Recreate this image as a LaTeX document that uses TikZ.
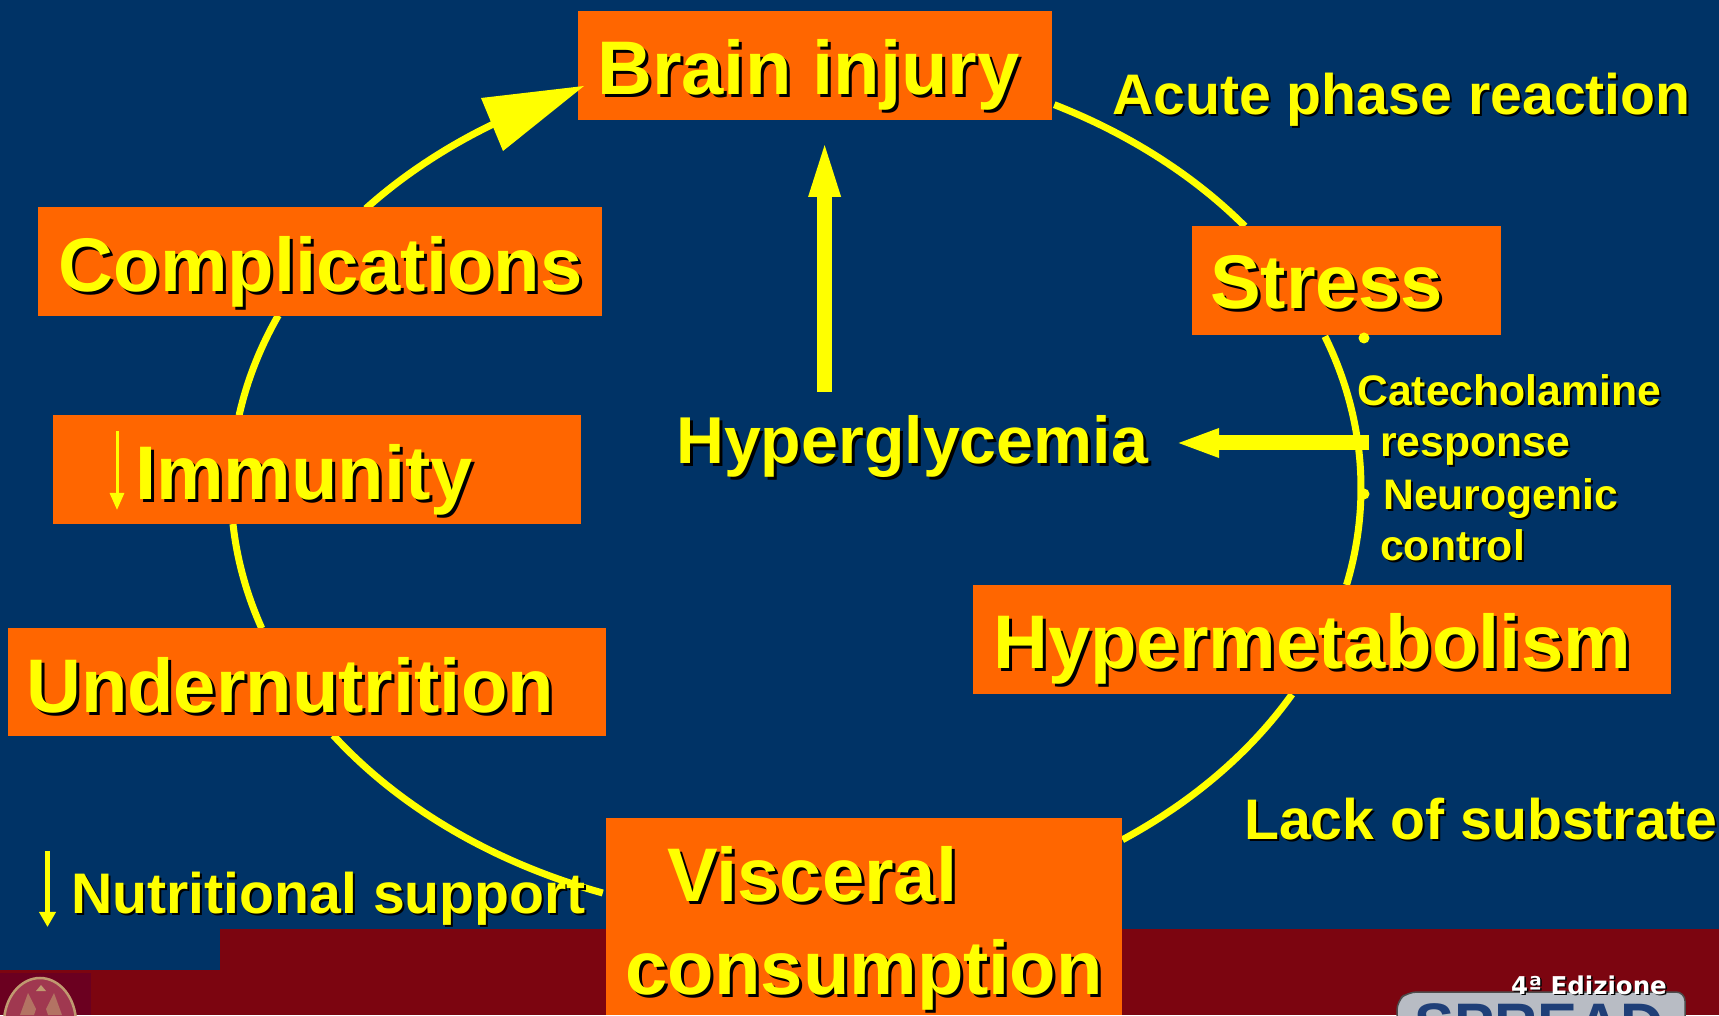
\documentclass[tikz,border=0pt]{standalone}
\usepackage{fontspec}
\setmainfont{Liberation Sans}
\newfontfamily\logofont{DejaVu Sans}
\usetikzlibrary{calc,arrows.meta}
\definecolor{navy}{HTML}{003366}
\definecolor{wine}{HTML}{7C0510}
\definecolor{wineb}{HTML}{6B0020}
\definecolor{boxor}{HTML}{FF6600}
\definecolor{yel}{HTML}{FFFF00}
\definecolor{tan1}{HTML}{C09A70}
\definecolor{rose}{HTML}{A03850}
\definecolor{silver}{HTML}{B8BCC4}
\definecolor{logoblue}{HTML}{1F3F78}
\newcommand{\shd}[2][3pt]{\makebox[0pt][l]{\hspace{#1}\raisebox{-#1}{\color{black}#2}}#2}
\tikzset{
  box/.style={fill=boxor,draw=none,inner sep=0pt},
  lab/.style={anchor=base west,inner sep=0pt,text=yel},
  big/.style={lab,font=\fontsize{76}{76}\selectfont\bfseries},
  hyp/.style={lab,font=\fontsize{66.3}{66}\selectfont\bfseries},
  mid/.style={lab,font=\fontsize{57.2}{57}\selectfont\bfseries},
  sml/.style={lab,font=\fontsize{42.7}{43}\selectfont\bfseries},
  ring/.style={draw=yel,line width=7pt},
  seg/.style n args={2}{ring,insert path={($(R)+(#1:565pt and 431pt)$) arc[start angle=#1,end angle=#2,x radius=565pt,y radius=431pt]}},
  dot/.style={circle,fill=yel,inner sep=0pt,minimum size=11pt}
}
\begin{document}
\begin{tikzpicture}[x=1pt,y=1pt]
\useasboundingbox (0,0) rectangle (1719,1015);
\clip (0,0) rectangle (1719,1015);
\fill[navy] (0,0) rectangle (1719,1015);
\fill[wine] (220,0) rectangle (1719,86);
\fill[wine] (0,0) rectangle (220,45);
% emblem, bottom left
\fill[wineb] (0,0) rectangle (91,42);
\draw[tan1,fill=rose,line width=2.5pt] (40,-8) ellipse (36pt and 45pt);
\fill[tan1] (41,30) -- (36,24) -- (46,24) -- cycle;
\fill[tan1!60!rose] (28,22) -- (36,6) -- (34,0) -- (20,0) -- cycle;
\fill[tan1!60!rose] (54,22) -- (46,6) -- (48,0) -- (62,0) -- cycle;
% logo, bottom right
\fill[silver,draw=black!70,line width=1.5pt,rounded corners=9pt] (1397,-10) -- (1397,14) -- (1408,23) -- (1685,23) -- (1685,-10) -- cycle;
\node[anchor=base west,inner sep=0pt,text=logoblue,font=\fontsize{60}{60}\selectfont\bfseries] (spread) at (1414,-30) {SPREAD};
\node[anchor=base west,inner sep=0pt,text=white,font=\logofont\fontsize{24.5}{24}\selectfont\bfseries] (edizione) at (1511,21) {\shd[1.5pt]{4ª Edizione}};
% ring
\coordinate (R) at (796,527);
\path[seg={62.8}{37.4}];
\path[seg={20.6}{-13}];
\path[seg={-28.6}{-54.7}];
\path[seg={-110}{-145}];
\path[seg={199}{184.8}];
\path[seg={170.3}{156.4}];
\path[seg={139.6}{118}];
% boxes
\node[box,minimum width=474pt,minimum height=109pt] (brain) at (815,949.5) {};
\node[box,minimum width=564pt,minimum height=109pt] (compl) at (320,753.5) {};
\node[box,minimum width=309pt,minimum height=109pt] (stress) at (1346.5,734.5) {};
\node[box,minimum width=528pt,minimum height=109pt] (immun) at (317,545.5) {};
\node[box,minimum width=598pt,minimum height=108pt] (under) at (307,333) {};
\node[box,minimum width=698pt,minimum height=109pt] (hyper) at (1322,375.5) {};
\node[box,minimum width=516pt,minimum height=197pt] (visc) at (864,98.5) {};
% head of the ring, lying over the Brain injury box
\fill[yel] (584,929) -- (481,917) -- (503,864) -- cycle;
% box labels
\node[big] (tbrain) at (597,920) {\shd{Brain injury}};
\node[big] (tcompl) at (58.5,723) {\shd{Complications}};
\node[big] (tstress) at (1210,706) {\shd{Stress}};
\node[big] (timmun) at (135,515) {\shd{Immunity}};
\node[big] (tunder) at (26,302) {\shd{Undernutrition}};
\node[big] (thyper) at (993,346) {\shd{Hypermetabolism}};
\node[big] (tvisc) at (667,113) {\shd{Visceral}};
\node[big] (tcons) at (625.5,21) {\shd{consumption}};
% free labels
\node[hyp] (tglyc) at (676,551) {\shd{Hyperglycemia}};
\node[mid] (tacute) at (1112,900) {\shd[2pt]{Acute phase reaction}};
\node[mid] (tlack) at (1244,175) {\shd[2pt]{Lack of substrate}};
\node[mid] (tnutr) at (71,101) {\shd[2pt]{Nutritional support}};
\node[sml] (tcat) at (1357,609) {\shd[2pt]{Catecholamine}};
\node[sml] (tresp) at (1380,558) {\shd[2pt]{response}};
\node[sml] (tneu) at (1383,505) {\shd[2pt]{Neurogenic}};
\node[sml] (tctl) at (1380,454) {\shd[2pt]{control}};
% bullets
\node[dot] (b1) at (1364,677) {};
\node[dot] (b2) at (1364,521) {};
% arrows
\coordinate (upS) at (824.6,623);
\coordinate (upE) at (824.6,881);
\draw[yel,line width=15pt,-{Triangle[length=63pt,width=27pt]}] (upS) -- (upE);
\coordinate (lfS) at (1369,572);
\coordinate (lfE) at (1175,572);
\draw[yel,line width=15pt,-{Triangle[length=44pt,width=26pt]}] (lfS) -- (lfE);
\coordinate (imS) at (117,584);
\coordinate (imE) at (117,505);
\draw[yel,line width=3pt,-{Triangle[length=17pt,width=14pt]}] (imS) -- (imE);
\coordinate (nuS) at (47.5,164);
\coordinate (nuE) at (47.5,88);
\draw[yel,line width=5pt,-{Triangle[length=15pt,width=16pt]}] (nuS) -- (nuE);
\end{tikzpicture}
\end{document}
